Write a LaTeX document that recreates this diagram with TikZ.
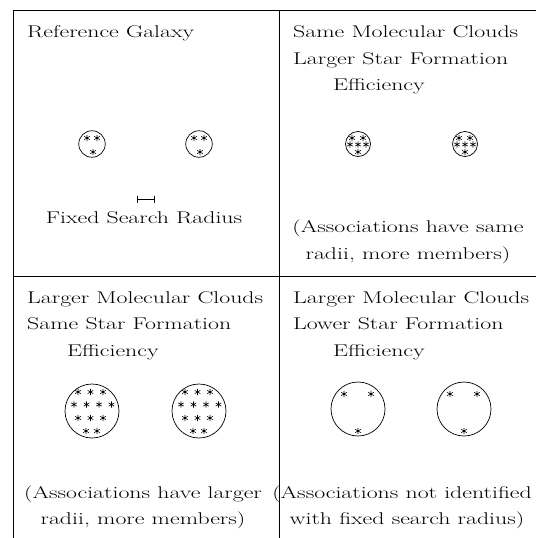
\documentclass[tikz,border=0pt]{standalone}
\usepackage{fontspec}
\newcommand{\sx}[1]{\scalebox{1.40}[1]{#1}}
\begin{document}
\begin{tikzpicture}[x=1pt,y=-1pt,
  frame/.style={line width=0.8pt},
  txt/.style={inner sep=0pt,font=\rmfamily\fontsize{17}{20}\selectfont},
  cloud/.style={circle,draw,line width=0.7pt,inner sep=0pt},
  astar/.style={line width=0.6pt}]
\useasboundingbox (0,0) rectangle (536,538);
\newcommand{\astk}[2]{%
  \draw[astar] (#1,#2-3.2) -- (#1,#2+3.2)
    (#1-2.8,#2-1.6) -- (#1+2.8,#2+1.6)
    (#1-2.8,#2+1.6) -- (#1+2.8,#2-1.6);}
% frame
\draw[frame] (13,538) -- (13,10) -- (536,10);
\draw[frame] (279,10) -- (279,538);
\draw[frame] (13,276) -- (536,276);
% panel 1
\node[txt,anchor=base west] (t1) at (27,37) {\sx{Reference Galaxy}};
\node[cloud,minimum size=26.5pt] (c1a) at (92,144) {};
\node[cloud,minimum size=26.5pt] (c1b) at (199,144) {};
\foreach \cx in {92,199}{
  \astk{\cx-5}{138}\astk{\cx+5}{138}\astk{\cx+1}{152}}
\coordinate (ra) at (137,199);
\coordinate (rb) at (154,199);
\draw[line width=0.7pt] (ra) -- (rb);
\draw[line width=0.7pt] (137,195.5) -- (137,202.5) (154,195.5) -- (154,202.5);
\node[txt,anchor=base] (t1b) at (144,223) {\sx{Fixed Search Radius}};
% panel 2
\node[txt,anchor=base west] (t2a) at (293,37) {\sx{Same Molecular Clouds}};
\node[txt,anchor=base west] (t2b) at (293,64) {\sx{Larger Star Formation}};
\node[txt,anchor=base west] (t2c) at (333,90) {\sx{Efficiency}};
\node[cloud,minimum size=25pt] (c2a) at (358,144) {};
\node[cloud,minimum size=25pt] (c2b) at (465,144) {};
\foreach \cx in {358,465}{
  \astk{\cx-6}{138}\astk{\cx+5}{138}
  \astk{\cx-8}{144.5}\astk{\cx}{144.5}\astk{\cx+8}{144.5}
  \astk{\cx}{152}}
\node[txt,anchor=base] (t2d) at (408,232) {\sx{(Associations have same}};
\node[txt,anchor=base] (t2e) at (408,259) {\sx{radii, more members)}};
% panel 3
\node[txt,anchor=base west] (t3a) at (27,303) {\sx{Larger Molecular Clouds}};
\node[txt,anchor=base west] (t3b) at (27,329) {\sx{Same Star Formation}};
\node[txt,anchor=base west] (t3c) at (67,356) {\sx{Efficiency}};
\node[cloud,minimum size=54pt] (c3a) at (92,411) {};
\node[cloud,minimum size=54pt] (c3b) at (199,411) {};
\foreach \cx in {92,199}{
  \astk{\cx-14}{392}\astk{\cx-1.5}{392}\astk{\cx+11}{392}
  \astk{\cx-18}{404.5}\astk{\cx-5.5}{404.5}\astk{\cx+7}{404.5}\astk{\cx+19.5}{404.5}
  \astk{\cx-14}{418}\astk{\cx-1.5}{418}\astk{\cx+11}{418}
  \astk{\cx-6}{431}\astk{\cx+5}{431}}
\node[txt,anchor=base] (t3d) at (143,498) {\sx{(Associations have larger}};
\node[txt,anchor=base] (t3e) at (143,524) {\sx{radii, more members)}};
% panel 4
\node[txt,anchor=base west] (t4a) at (293,303) {\sx{Larger Molecular Clouds}};
\node[txt,anchor=base west] (t4b) at (293,329) {\sx{Lower Star Formation}};
\node[txt,anchor=base west] (t4c) at (333,356) {\sx{Efficiency}};
\node[cloud,minimum size=54pt] (c4a) at (358,409) {};
\node[cloud,minimum size=54pt] (c4b) at (464,409) {};
\foreach \cx in {358,464}{
  \astk{\cx-14}{394}\astk{\cx+13}{394}\astk{\cx}{431}}
\node[txt,anchor=base] (t4d) at (402,498) {\sx{(Associations not identified}};
\node[txt,anchor=base] (t4e) at (407,524) {\sx{with fixed search radius)}};
\end{tikzpicture}
\end{document}
